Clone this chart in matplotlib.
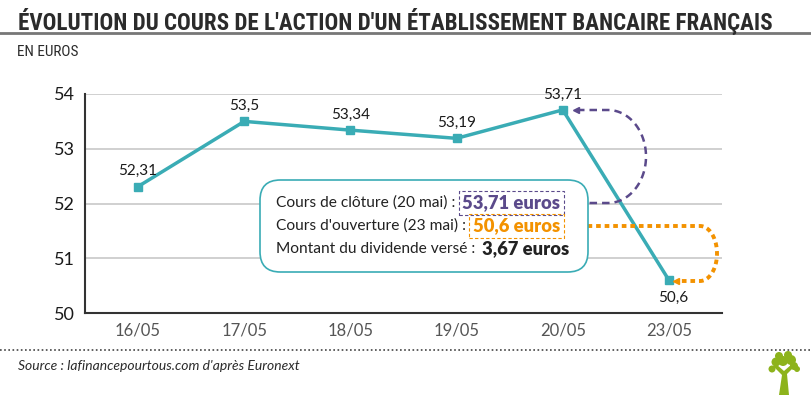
import numpy as np
import matplotlib
matplotlib.use("Agg")
import matplotlib.pyplot as plt
from matplotlib.patches import FancyBboxPatch, Ellipse, Polygon
from matplotlib.lines import Line2D

# — DATA —
dates = ["16/05", "17/05", "18/05", "19/05", "20/05", "23/05"]
prices = [52.31, 53.5, 53.34, 53.19, 53.71, 50.6]
price_labels = ["52,31", "53,5", "53,34", "53,19", "53,71", "50,6"]
yticks = [50, 51, 52, 53, 54]

TEAL = "#3aacb5"
PURPLE = "#5b4a8b"
ORANGE = "#f39200"
W, H = 812, 395

plt.rcParams["font.family"] = ["Lato", "DejaVu Sans"]

fig = plt.figure(figsize=(W / 100, H / 100), dpi=100)
fig.patch.set_facecolor("white")


def fx(px):
    return px / W


def fy(py):
    return 1 - py / H


# — HEADER —
title = fig.text(fx(18), fy(21.5),
                 "ÉVOLUTION DU COURS DE L'ACTION D'UN ÉTABLISSEMENT BANCAIRE FRANÇAIS",
                 family=["Roboto Condensed", "Open Sans Condensed", "DejaVu Sans"],
                 fontstretch="condensed", fontweight="bold",
                 fontsize=16, color="#2b2b2b", va="center", ha="left")
# fit the title width to the reference (about 755 px wide)
fig.canvas.draw()
w = title.get_window_extent().width
title.set_fontsize(16 * 755 / w)

fig.add_artist(Line2D([0, 1], [fy(33), fy(33)], color="#777777", lw=2))
fig.text(fx(17), fy(52), "EN EUROS", family=["Roboto Condensed", "DejaVu Sans"],
         fontsize=11, color="#2b2b2b", va="center", ha="left")

# — AXES —
ax = fig.add_axes([fx(85), fy(313), fx(722) - fx(85), fy(94) - fy(313)])
x = np.arange(len(dates))
ax.plot(x, prices, color=TEAL, lw=2.5, marker="s", markersize=5.5, zorder=3)
ax.set_xlim(-0.5, len(dates) - 0.5)
ax.set_ylim(50, 54)
ax.set_yticks(yticks)
ax.set_yticklabels([str(v) for v in yticks], fontsize=13, color="#1a1a1a")
ax.set_xticks(x)
ax.set_xticklabels(dates, fontsize=12, color="#555555")
ax.tick_params(length=0, pad=7)
for s in ["top", "right"]:
    ax.spines[s].set_visible(False)
for s in ["left", "bottom"]:
    ax.spines[s].set_color("#333333")
    ax.spines[s].set_linewidth(1.5)
ax.grid(axis="y", color="#c8c8c8", lw=1.2)
ax.set_axisbelow(True)

# value labels
for i, (v, lab) in enumerate(zip(prices, price_labels)):
    if i == len(prices) - 1:
        ax.annotate(lab, (i, v), xytext=(3, -13), textcoords="offset points",
                    ha="center", va="center", fontsize=11, color="#1a1a1a")
    else:
        ax.annotate(lab, (i, v), xytext=(0, 11), textcoords="offset points",
                    ha="center", va="center", fontsize=11, color="#1a1a1a")

# — INFO BOX —
box = FancyBboxPatch((fx(260), fy(272)), fx(588) - fx(260), fy(180) - fy(272),
                     boxstyle="round,pad=0,rounding_size=0.025", transform=fig.transFigure,
                     fc="white", ec=TEAL, lw=1.2, zorder=5, mutation_aspect=W / H)
fig.add_artist(box)

fs = 11.2
fsb = 13.2
rows = [("Cours de clôture (20 mai) : ", "53,71 euros", PURPLE, 203),
        ("Cours d'ouverture (23 mai) : ", "50,6 euros", ORANGE, 226),
        ("Montant du dividende versé : ", "3,67 euros", "#222222", 249)]
for label, val, col, ypx in rows:
    t = fig.text(fx(276), fy(ypx), label, fontsize=fs, color="#222222",
                 va="center", ha="left", zorder=6)
    bb = None
    if col != "#222222":
        bb = dict(boxstyle="square,pad=0.2", fc="none", ec=col, ls=(0, (3, 2)), lw=0.8)
    fig.canvas.draw()
    ext = t.get_window_extent()
    fig.text(fx(ext.x1 + 3), fy(ypx), val, fontsize=fsb, color=col, fontweight="heavy",
             zorder=6, va="center", ha="left", bbox=bb)


# — CURVED ARROWS —
def d_path(x0, y_top, y_bot, xc, rx):
    yc = (y_top + y_bot) / 2
    ry = (y_bot - y_top) / 2
    th = np.linspace(np.pi / 2, -np.pi / 2, 60)
    px = np.concatenate([[x0], xc + rx * np.cos(th), [x0]])
    py = np.concatenate([[y_top], yc - ry * np.sin(th), [y_bot]])
    return px, py


px, py = d_path(577, 110, 203, 608, 38)
fig.add_artist(Line2D(fx(px), fy(py), color=PURPLE, lw=1.8, ls=(0, (3, 2)), zorder=4))
fig.add_artist(Line2D([fx(576)], [fy(110)], marker="<", color=PURPLE, ms=5, zorder=4))
fig.add_artist(Line2D([fx(578)], [fy(203)], marker="<", color=PURPLE, ms=5, zorder=4))

px, py = d_path(579, 226, 281, 700, 17)
px[-1] = 677
fig.add_artist(Line2D(fx(px), fy(py), color=ORANGE, lw=2.8, ls=(0, (1.2, 1)), zorder=4))
fig.add_artist(Line2D([fx(578)], [fy(226)], marker="<", color=ORANGE, ms=5, zorder=4))
fig.add_artist(Line2D([fx(676)], [fy(281)], marker="<", color=ORANGE, ms=5, zorder=4))

# — FOOTER —
fig.add_artist(Line2D([0, 1], [fy(350), fy(350)], color="#444444", lw=1.2, ls=(0, (1, 1.5))))
fig.text(fx(18), fy(366), "Source : lafinancepourtous.com d'après Euronext", fontsize=10,
         style="italic", color="#2b2b2b", va="center", ha="left")

# little tree logo
GREEN = "#8db31c"
fig.add_artist(Polygon([(fx(779), fy(395)), (fx(789), fy(395)), (fx(787), fy(374)),
                        (fx(795), fy(366)), (fx(792), fy(364)), (fx(784), fy(371)),
                        (fx(776), fy(364)), (fx(773), fy(366)), (fx(782), fy(375))],
                       closed=True, transform=fig.transFigure, fc=GREEN, ec="none"))
for cx, cy, r in [(783, 361, 5), (776, 362, 4.5), (791, 360, 5), (779, 356, 4), (788, 355, 4),
                  (794, 366, 4), (772, 369, 3.5), (797, 369, 3)]:
    fig.add_artist(Ellipse((fx(cx), fy(cy)), 2 * r / W, 2 * r / H, transform=fig.transFigure,
                           fc=GREEN, ec="none"))

fig.savefig("out.png", dpi=100)
